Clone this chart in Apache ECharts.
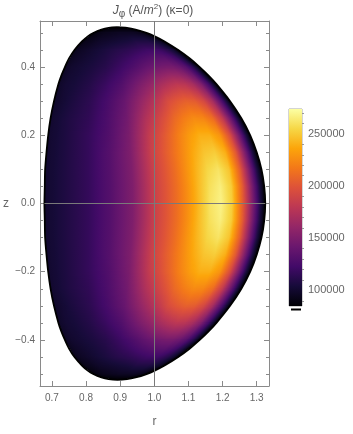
<!DOCTYPE html>
<html><head><meta charset="utf-8">
<script src="https://cdn.jsdelivr.net/npm/echarts@6/dist/echarts.min.js"></script>
<style>html,body{margin:0;padding:0;background:#fff}#c{width:353px;height:434px}</style>
</head><body><div id="c"></div>
<script>
// ---------- data ----------
const xMajorTicks = [0.7, 0.8, 0.9, 1.0, 1.1, 1.2, 1.3];
const xMinorTicks = [0.68, 0.72, 0.74, 0.76, 0.78, 0.82, 0.84, 0.86, 0.88, 0.92, 0.94, 0.96, 0.98,
  1.02, 1.04, 1.06, 1.08, 1.12, 1.14, 1.16, 1.18, 1.22, 1.24, 1.26, 1.28, 1.32];
const yMajorTicks = [-0.4, -0.2, 0.0, 0.2, 0.4];
const yMinorTicks = [-0.5, -0.45, -0.35, -0.3, -0.25, -0.15, -0.1, -0.05, 0.05, 0.1, 0.15, 0.25, 0.3, 0.35, 0.45, 0.5];
const cbMajorTicks = [100000, 150000, 200000, 250000];
const cbMinorTicks = [90000, 110000, 120000, 130000, 140000, 160000, 170000, 180000, 190000,
  210000, 220000, 230000, 240000, 260000, 270000];
const cbRange = [85000, 274000];

// rows of the field: z level, left and right plasma edge (r), and J_phi in kA/m^2
// sampled at fractions chordS of the chord from the left edge to the right edge
const chordS = [0, 0.05, 0.1, 0.2, 0.3, 0.4, 0.5, 0.6, 0.65, 0.7, 0.75, 0.8, 0.85, 0.9, 0.95, 0.975, 1];
const rowZ = [0.517, 0.51, 0.5, 0.475, 0.45, 0.4, 0.35, 0.3, 0.25, 0.2, 0.15, 0.1, 0.05, 0,
  -0.05, -0.1, -0.15, -0.2, -0.25, -0.3, -0.35, -0.4, -0.45, -0.475, -0.5, -0.51, -0.517];
const rowLeft = [0.892, 0.845, 0.821, 0.788, 0.766, 0.738, 0.719, 0.706, 0.696, 0.689, 0.684, 0.680, 0.679, 0.678,
  0.679, 0.680, 0.684, 0.689, 0.696, 0.706, 0.719, 0.738, 0.766, 0.788, 0.821, 0.845, 0.892];
const rowRight = [0.892, 0.945, 0.977, 1.030, 1.070, 1.133, 1.182, 1.222, 1.255, 1.281, 1.300, 1.314, 1.322, 1.325,
  1.322, 1.314, 1.300, 1.281, 1.255, 1.222, 1.182, 1.133, 1.070, 1.030, 0.977, 0.945, 0.892];
const rowJ = [
  [85, 85, 85, 85, 85, 85, 85, 85, 85, 85, 85, 85, 85, 85, 85, 85, 85],
  [85, 86, 87, 88, 88, 89, 89, 89, 89, 89, 89, 89, 88, 88, 87, 86, 85],
  [85, 89, 91, 93, 94, 95, 96, 96, 96, 96, 96, 95, 94, 93, 91, 88, 85],
  [89, 93, 94, 98, 100, 102, 104, 106, 108, 108, 108, 108, 106, 102, 96, 91, 85],
  [93, 96, 98, 102, 106, 110, 113, 117, 119, 121, 121, 121, 117, 111, 102, 94, 85],
  [96, 100, 102, 106, 111, 119, 128, 138, 142, 145, 147, 147, 142, 132, 113, 100, 85],
  [98, 102, 104, 110, 119, 130, 147, 162, 170, 176, 180, 178, 170, 153, 123, 104, 85],
  [98, 102, 106, 113, 125, 140, 162, 183, 195, 202, 206, 204, 193, 170, 130, 108, 85],
  [100, 104, 108, 115, 128, 145, 174, 198, 210, 219, 225, 223, 212, 183, 136, 110, 85],
  [100, 104, 108, 117, 130, 149, 183, 208, 221, 232, 240, 240, 229, 195, 140, 111, 85],
  [100, 104, 108, 117, 132, 151, 187, 212, 225, 238, 248, 251, 240, 202, 142, 111, 85],
  [100, 104, 108, 117, 132, 151, 187, 212, 227, 242, 255, 261, 248, 204, 142, 111, 85],
  [100, 104, 108, 117, 132, 151, 187, 212, 227, 244, 259, 266, 251, 204, 142, 111, 85],
  [100, 104, 108, 117, 132, 151, 187, 212, 227, 244, 261, 268, 251, 202, 142, 111, 85],
  [100, 104, 108, 117, 132, 151, 187, 212, 227, 244, 259, 266, 251, 204, 142, 111, 85],
  [100, 104, 108, 117, 132, 151, 187, 212, 227, 242, 255, 261, 248, 204, 142, 111, 85],
  [100, 104, 108, 117, 132, 151, 187, 212, 225, 238, 248, 251, 240, 202, 142, 111, 85],
  [100, 104, 108, 117, 130, 149, 183, 208, 221, 232, 240, 240, 229, 195, 140, 111, 85],
  [100, 104, 108, 115, 128, 145, 174, 198, 210, 219, 225, 223, 212, 183, 136, 110, 85],
  [98, 102, 106, 113, 125, 140, 162, 183, 195, 202, 206, 204, 193, 170, 130, 108, 85],
  [98, 102, 104, 110, 119, 130, 147, 162, 170, 176, 180, 178, 170, 153, 123, 104, 85],
  [96, 100, 102, 106, 111, 119, 128, 138, 142, 145, 147, 147, 142, 132, 113, 100, 85],
  [93, 96, 98, 102, 106, 110, 113, 117, 119, 121, 121, 121, 117, 111, 102, 94, 85],
  [89, 93, 94, 98, 100, 102, 104, 106, 108, 108, 108, 108, 106, 102, 96, 91, 85],
  [85, 89, 91, 93, 94, 95, 96, 96, 96, 96, 96, 95, 94, 93, 91, 88, 85],
  [85, 86, 87, 88, 88, 89, 89, 89, 89, 89, 89, 89, 88, 88, 87, 86, 85],
  [85, 85, 85, 85, 85, 85, 85, 85, 85, 85, 85, 85, 85, 85, 85, 85, 85]
];

// plasma boundary (r, z), clockwise from the top
const boundaryR = [0.892, 0.920, 0.945, 0.977, 1.001, 1.030, 1.070, 1.104, 1.133, 1.159, 1.182, 1.222, 1.255, 1.281, 1.300, 1.314, 1.322, 1.325,
  1.322, 1.314, 1.300, 1.281, 1.255, 1.222, 1.182, 1.159, 1.133, 1.104, 1.070, 1.030, 1.001, 0.977, 0.945, 0.920, 0.892,
  0.866, 0.845, 0.821, 0.805, 0.788, 0.766, 0.750, 0.738, 0.7275, 0.719, 0.706, 0.696, 0.689, 0.684, 0.680, 0.679, 0.678,
  0.679, 0.680, 0.684, 0.689, 0.696, 0.706, 0.719, 0.7275, 0.738, 0.750, 0.766, 0.788, 0.805, 0.821, 0.845, 0.866, 0.892];
const boundaryZ = [0.517, 0.515, 0.51, 0.5, 0.49, 0.475, 0.45, 0.425, 0.4, 0.375, 0.35, 0.3, 0.25, 0.2, 0.15, 0.1, 0.05, 0,
  -0.05, -0.1, -0.15, -0.2, -0.25, -0.3, -0.35, -0.375, -0.4, -0.425, -0.45, -0.475, -0.49, -0.5, -0.51, -0.515, -0.517,
  -0.515, -0.51, -0.5, -0.49, -0.475, -0.45, -0.425, -0.4, -0.375, -0.35, -0.3, -0.25, -0.2, -0.15, -0.1, -0.05, 0,
  0.05, 0.1, 0.15, 0.2, 0.25, 0.3, 0.35, 0.375, 0.4, 0.425, 0.45, 0.475, 0.49, 0.5, 0.51, 0.515, 0.517];

// reference lines (axes through r=1, z=0)
const midplaneR = [0.678, 1.325];
const axisR = 1.0;

// ---------- style ----------
const FONT = 'Liberation Sans, Arial, sans-serif';
const frameColor = '#8a8a8a';
const labelColor = '#666';
const inferno = ['#000004', '#160b39', '#420a68', '#6a176e', '#932667', '#bc3754', '#dd513a', '#f37819', '#fca50a', '#f6d746', '#fcffa4'];
const infRgb = inferno.map(h => [parseInt(h.slice(1, 3), 16), parseInt(h.slice(3, 5), 16), parseInt(h.slice(5, 7), 16)]);
function cmap(v) {
  let f = (v - cbRange[0]) / (cbRange[1] - cbRange[0]);
  f = Math.max(0, Math.min(1, f));
  const p = f * (infRgb.length - 1);
  const k = Math.min(infRgb.length - 2, Math.floor(p));
  const t = p - k;
  const a = infRgb[k], b = infRgb[k + 1];
  return 'rgb(' + Math.round(a[0] + (b[0] - a[0]) * t) + ',' + Math.round(a[1] + (b[1] - a[1]) * t) + ',' + Math.round(a[2] + (b[2] - a[2]) * t) + ')';
}

function renderBand(params, api) {
  const i = api.value(0);
  const yA = api.coord([1, rowZ[i]])[1];
  const yB = api.coord([1, rowZ[i + 1]])[1];
  const children = [];
  for (let py = Math.floor(yA); py < Math.ceil(yB); py++) {
    const t = Math.max(0, Math.min(1, (py + 0.5 - yA) / (yB - yA)));
    const rl = rowLeft[i] + (rowLeft[i + 1] - rowLeft[i]) * t;
    const rr = rowRight[i] + (rowRight[i + 1] - rowRight[i]) * t;
    const xl = api.coord([rl, 0])[0], xr = api.coord([rr, 0])[0];
    if (xr - xl < 0.3) continue;
    const vals = chordS.map((s, j) => 1000 * (rowJ[i][j] + (rowJ[i + 1][j] - rowJ[i][j]) * t));
    const stops = [];
    for (let j = 0; j < chordS.length; j++) {
      stops.push({ offset: chordS[j], color: cmap(vals[j]) });
      if (j < chordS.length - 1) {
        for (let m = 1; m < 4; m++) {
          const u = m / 4;
          stops.push({ offset: chordS[j] + (chordS[j + 1] - chordS[j]) * u, color: cmap(vals[j] + (vals[j + 1] - vals[j]) * u) });
        }
      }
    }
    children.push({
      type: 'rect', silent: true,
      shape: { x: xl, y: py, width: xr - xl, height: 1 },
      style: { fill: new echarts.graphic.LinearGradient(0, 0, 1, 0, stops) }
    });
  }
  return { type: 'group', children };
}

function renderBar(params, api) {
  const p0 = api.coord([0, api.value(0)]);
  const p1 = api.coord([1, api.value(1)]);
  const stops = inferno.map((c, k) => ({ offset: k / (inferno.length - 1), color: c }));
  return {
    type: 'rect', silent: true,
    shape: { x: p0[0], y: p1[1], width: p1[0] - p0[0], height: p0[1] - p1[1] },
    style: { fill: new echarts.graphic.LinearGradient(0, 1, 0, 0, stops) }
  };
}

const tickStyle = { color: frameColor, width: 1 };
function xAx(pos, ticks, len, labels, extra) {
  return Object.assign({
    type: 'value', gridIndex: 0, position: pos, min: 0.665, max: 1.336,
    axisLine: { show: true, onZero: false, lineStyle: { color: frameColor, width: 1 } },
    axisTick: { show: true, inside: true, length: len, customValues: ticks, lineStyle: tickStyle },
    axisLabel: labels ? { customValues: ticks, formatter: v => v.toFixed(1), color: labelColor, fontSize: 10, fontFamily: FONT, margin: 7 } : { show: false },
    splitLine: { show: false }
  }, extra || {});
}
function yAx(pos, ticks, len, labels, extra) {
  return Object.assign({
    type: 'value', gridIndex: 0, position: pos, min: -0.535, max: 0.535,
    axisLine: { show: true, onZero: false, lineStyle: { color: frameColor, width: 1 } },
    axisTick: { show: true, inside: true, length: len, customValues: ticks, lineStyle: tickStyle },
    axisLabel: labels ? { customValues: ticks, formatter: v => (v < 0 ? '\u2212' + Math.abs(v).toFixed(1) : v.toFixed(1)), color: labelColor, fontSize: 10, fontFamily: FONT, margin: 5 } : { show: false },
    splitLine: { show: false }
  }, extra || {});
}

const chart = echarts.init(document.getElementById('c'), null, { renderer: 'canvas' });
chart.setOption({
  animation: false,
  backgroundColor: '#fff',
  grid: [
    { left: 38, top: 21, width: 231, height: 365, containLabel: false },
    { left: 289, top: 109, width: 13, height: 197, show: true, borderColor: '#a8a8a8', borderWidth: 1, backgroundColor: 'transparent' }
  ],
  xAxis: [
    xAx('bottom', xMajorTicks, 5, true, { name: 'r', nameLocation: 'middle', nameGap: 30, nameTextStyle: { color: labelColor, fontSize: 12, fontFamily: FONT } }),
    xAx('bottom', xMinorTicks, 3, false, { axisLine: { show: false } }),
    xAx('top', xMajorTicks, 5, false),
    xAx('top', xMinorTicks, 3, false, { axisLine: { show: false } }),
    { type: 'value', gridIndex: 1, min: 0, max: 1, show: false }
  ],
  yAxis: [
    yAx('left', yMajorTicks, 5, true, { name: 'z', nameLocation: 'middle', nameGap: 31, nameRotate: 0, nameTextStyle: { color: labelColor, fontSize: 12, fontFamily: FONT } }),
    yAx('left', yMinorTicks, 3, false, { axisLine: { show: false } }),
    yAx('right', yMajorTicks, 5, false),
    yAx('right', yMinorTicks, 3, false, { axisLine: { show: false } }),
    {
      type: 'value', gridIndex: 1, position: 'right', min: cbRange[0], max: cbRange[1],
      axisLine: { show: false },
      axisTick: { show: true, inside: false, length: 4, customValues: cbMajorTicks, lineStyle: { color: '#999' } },
      axisLabel: { customValues: cbMajorTicks, formatter: v => String(Math.round(v)), color: labelColor, fontSize: 11, fontFamily: FONT, margin: 6 },
      splitLine: { show: false }
    },
    {
      type: 'value', gridIndex: 1, position: 'right', min: cbRange[0], max: cbRange[1],
      axisLine: { show: false },
      axisTick: { show: true, inside: false, length: 2, customValues: cbMinorTicks, lineStyle: { color: '#999' } },
      axisLabel: { show: false }, splitLine: { show: false }
    }
  ],
  series: [
    {
      type: 'custom', name: 'Jphi', xAxisIndex: 0, yAxisIndex: 0, clip: true,
      renderItem: renderBand,
      data: rowZ.slice(0, -1).map((z, i) => [i]),
      z: 1
    },
    {
      type: 'line', name: 'boundary', xAxisIndex: 0, yAxisIndex: 0,
      data: boundaryR.map((r, i) => [r, boundaryZ[i]]),
      showSymbol: false, symbol: 'none', smooth: 0.3,
      lineStyle: { color: '#000', width: 1.8 }, silent: true, z: 3
    },
    {
      type: 'line', name: 'midplane', xAxisIndex: 0, yAxisIndex: 0,
      data: midplaneR.map(r => [r, 0]),
      showSymbol: false, symbol: 'none',
      lineStyle: { color: '#7a7a7a', width: 1 }, silent: true, z: 4,
      markLine: {
        silent: true, symbol: 'none', label: { show: false },
        lineStyle: { color: '#7a7a7a', width: 1, type: 'solid' },
        data: [{ xAxis: axisR }]
      }
    },
    {
      type: 'custom', name: 'colorbar', xAxisIndex: 4, yAxisIndex: 4,
      renderItem: renderBar,
      data: [[cbRange[0], cbRange[1]]], z: 1
    }
  ],
  graphic: [
    {
      type: 'text', x: 153, y: 11, silent: true,
      style: {
        text: '{j|J}{sub|φ}{n| (A/}{j|m}{sup|2}{n|) (κ=0)}',
        align: 'center', verticalAlign: 'middle',
        rich: {
          j: { fontStyle: 'italic', fontSize: 12, fill: '#555', fontFamily: FONT, lineHeight: 16, verticalAlign: 'middle' },
          n: { fontSize: 12, fill: '#555', fontFamily: FONT, lineHeight: 16, verticalAlign: 'middle' },
          sub: { fontSize: 10, fill: '#555', fontFamily: FONT, lineHeight: 11, verticalAlign: 'bottom' },
          sup: { fontSize: 8, fill: '#555', fontFamily: FONT, lineHeight: 9, verticalAlign: 'top' }
        }
      }
    },
    { type: 'rect', silent: true, shape: { x: 291, y: 308.5, width: 10, height: 2 }, style: { fill: '#000' } }
  ]
});
</script>
</body></html>
